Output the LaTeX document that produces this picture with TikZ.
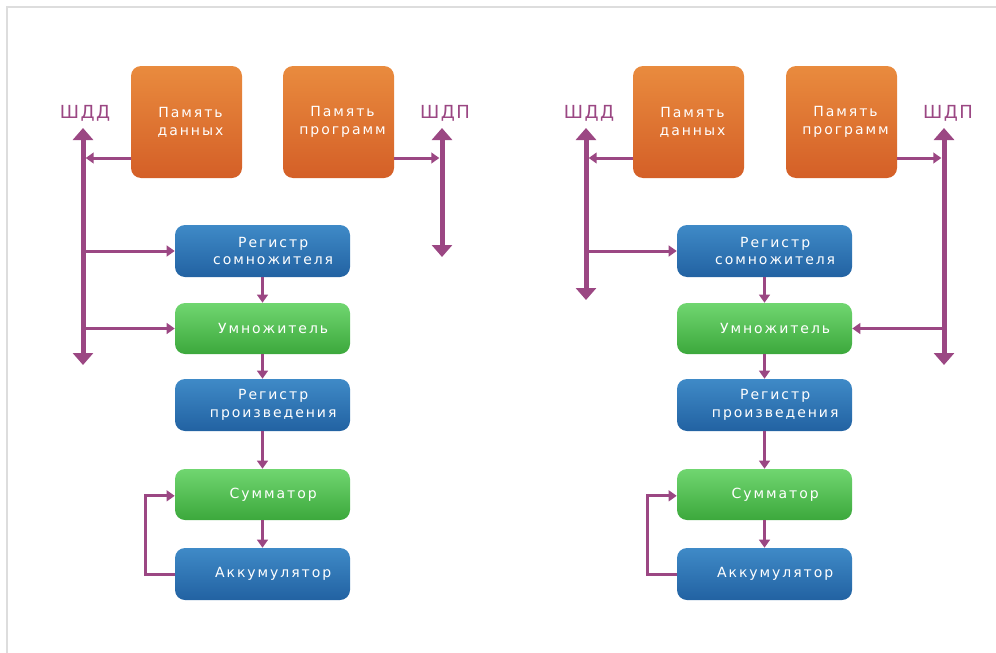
\documentclass[tikz,border=0pt]{standalone}
\usepackage{fontspec}
\setmainfont{DejaVu Sans}
\newfontfamily\boxfont[LetterSpace=14]{DejaVu Sans}
\newfontfamily\labfont[LetterSpace=8]{DejaVu Sans}
\usetikzlibrary{arrows.meta}
\definecolor{orT}{HTML}{E98B3E}
\definecolor{orB}{HTML}{D45F27}
\definecolor{blT}{HTML}{3F8AC7}
\definecolor{blB}{HTML}{2262A2}
\definecolor{grT}{HTML}{70D670}
\definecolor{grB}{HTML}{3CA83C}
\definecolor{busc}{HTML}{9B4783}
\definecolor{framec}{HTML}{DDDDDD}
\begin{document}
\begin{tikzpicture}[x=0.75pt,y=-0.75pt,
 box/.style={rounded corners=7.5pt, inner sep=0pt, draw=none},
 orbox/.style={box, top color=orT, bottom color=orB, minimum width=83.25pt, minimum height=84pt},
 blbox/.style={box, top color=blT, bottom color=blB, minimum width=131.25pt, minimum height=39pt},
 grbox/.style={box, top color=grT, bottom color=grB, minimum width=131.25pt, minimum height=38.25pt},
 txt/.style={text=white, font=\boxfont\fontsize{10.5}{13.3}\selectfont, align=center, inner sep=0pt},
 lab/.style={text=busc, font=\labfont\fontsize{13.5}{15}\selectfont, inner sep=0pt},
 busline/.style={draw=busc, line width=3.75pt, {Triangle[width=15pt,length=9pt]}-{Triangle[width=15pt,length=9pt]}},
 conn/.style={draw=busc, line width=2.25pt, -{Triangle[width=8pt,length=6pt]}},
]
\useasboundingbox (0,0) rectangle (996,653);
\draw[framec, line width=1.5pt] (7,653) -- (7,7) -- (996,7);

% ---------- left diagram ----------
\node[orbox] (pd1) at (186.5,122) {};
\node[orbox] (pp1) at (338.5,122) {};
\node[txt] (pd1t) at ([xshift=3pt]pd1.center) {Память\\данных};
\node[txt] (pp1t) at ([xshift=3pt]pp1.center) {Память\\программ};
\node[blbox] (rs1) at (262.5,251) {};
\node[grbox] (um1) at (262.5,328.5) {};
\node[blbox] (rp1) at (262.5,405) {};
\node[grbox] (sm1) at (262.5,494.5) {};
\node[blbox] (ak1) at (262.5,574) {};
\node[txt] (rs1t) at ([xshift=8pt]rs1.center) {Регистр\\сомножителя};
\node[txt] (um1t) at ([xshift=8pt]um1.center) {Умножитель};
\node[txt] (rp1t) at ([xshift=8pt]rp1.center) {Регистр\\произведения};
\node[txt] (sm1t) at ([xshift=8pt]sm1.center) {Сумматор};
\node[txt] (ak1t) at ([xshift=8pt]ak1.center) {Аккумулятор};
\node[lab] (ld1) at (85,113) {ШДД};
\node[lab] (lp1) at (445,113) {ШДП};
\coordinate (b1top) at (83,128);
\coordinate (b1bot) at (83,365);
\coordinate (b2top) at (442,128);
\coordinate (b2bot) at (442,257);
\coordinate (m1) at (83,158);
\coordinate (m2) at (442,158);
\draw[busline] (b1top) -- (b1bot);
\draw[busline] (b2top) -- (b2bot);
\draw[conn, shorten >=2pt] (pd1.west |- m1) -- (m1);
\draw[conn, shorten >=2pt] (pp1.east |- m2) -- (m2);
\draw[conn] (b1top |- rs1.west) -- (rs1.west);
\draw[conn] (b1top |- um1.west) -- (um1.west);
\draw[conn] (rs1) -- (um1);
\draw[conn] (um1) -- (rp1);
\draw[conn] (rp1) -- (sm1);
\draw[conn] (sm1) -- (ak1);
\draw[conn] (ak1.west) -- ++(-29,0) |- ([yshift=-1pt]sm1.west);

% ---------- right diagram ----------
\node[orbox] (pd2) at (688.5,122) {};
\node[orbox] (pp2) at (841.5,122) {};
\node[txt] (pd2t) at ([xshift=3pt]pd2.center) {Память\\данных};
\node[txt] (pp2t) at ([xshift=3pt]pp2.center) {Память\\программ};
\node[blbox] (rs2) at (764.5,251) {};
\node[grbox] (um2) at (764.5,328.5) {};
\node[blbox] (rp2) at (764.5,405) {};
\node[grbox] (sm2) at (764.5,494.5) {};
\node[blbox] (ak2) at (764.5,574) {};
\node[txt] (rs2t) at ([xshift=8pt]rs2.center) {Регистр\\сомножителя};
\node[txt] (um2t) at ([xshift=8pt]um2.center) {Умножитель};
\node[txt] (rp2t) at ([xshift=8pt]rp2.center) {Регистр\\произведения};
\node[txt] (sm2t) at ([xshift=8pt]sm2.center) {Сумматор};
\node[txt] (ak2t) at ([xshift=8pt]ak2.center) {Аккумулятор};
\node[lab] (ld2) at (589,113) {ШДД};
\node[lab] (lp2) at (948,113) {ШДП};
\coordinate (b3top) at (586,128);
\coordinate (b3bot) at (586,300);
\coordinate (b4top) at (944,128);
\coordinate (b4bot) at (944,365);
\coordinate (m3) at (586,158);
\coordinate (m4) at (944,158);
\draw[busline] (b3top) -- (b3bot);
\draw[busline] (b4top) -- (b4bot);
\draw[conn, shorten >=2pt] (pd2.west |- m3) -- (m3);
\draw[conn, shorten >=2pt] (pp2.east |- m4) -- (m4);
\draw[conn] (b3top |- rs2.west) -- (rs2.west);
\draw[conn] (b4top |- um2.east) -- (um2.east);
\draw[conn] (rs2) -- (um2);
\draw[conn] (um2) -- (rp2);
\draw[conn] (rp2) -- (sm2);
\draw[conn] (sm2) -- (ak2);
\draw[conn] (ak2.west) -- ++(-29,0) |- ([yshift=-1pt]sm2.west);
\end{tikzpicture}
\end{document}
